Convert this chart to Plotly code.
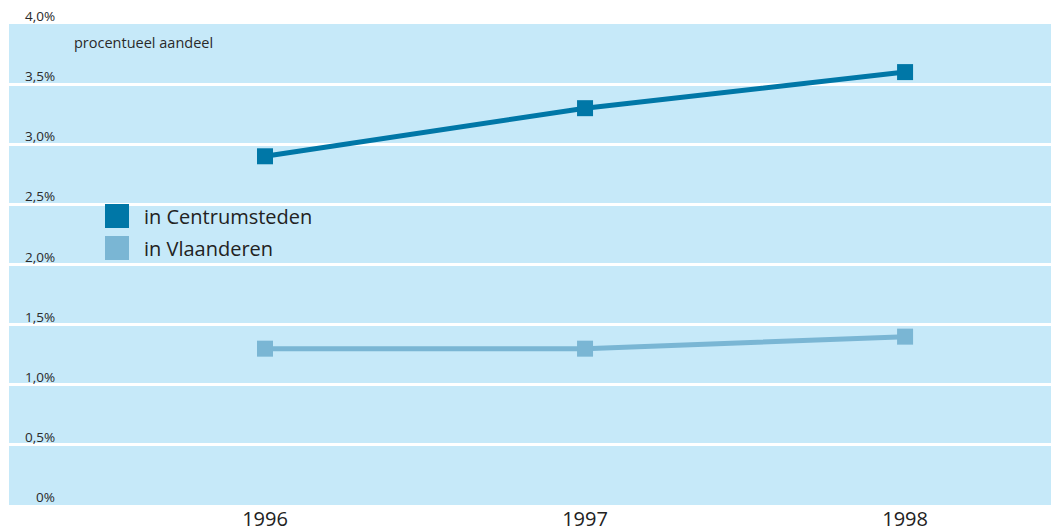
import plotly.graph_objects as go

years = [1996, 1997, 1998]
centrumsteden = [2.9, 3.3, 3.6]
vlaanderen = [1.3, 1.3, 1.4]
series_names = ["in Centrumsteden", "in Vlaanderen"]
series_colors = ["#0077A7", "#7AB6D4"]
y_ticks = [0, 0.5, 1.0, 1.5, 2.0, 2.5, 3.0, 3.5, 4.0]
y_tick_labels = ["0%", "0,5%", "1,0%", "1,5%", "2,0%", "2,5%", "3,0%", "3,5%", "4,0%"]
y_title = "procentueel aandeel"

FONT = "Open Sans"
W, H = 1051, 531
ml, mr, mt, mb = 9, 0, 24, 26

fig = go.Figure()
for name, vals, col in zip(series_names, [centrumsteden, vlaanderen], series_colors):
    fig.add_trace(go.Scatter(
        x=years, y=vals, name=name, mode="lines+markers",
        line=dict(color=col, width=5),
        marker=dict(symbol="square", size=16, color=col),
        showlegend=False, hoverinfo="skip"))

annotations = []
for v, t in zip(y_ticks, y_tick_labels):
    annotations.append(dict(
        x=(57 - ml) / (W - ml - mr), xref="paper", y=v, yref="y", text=t, showarrow=False,
        xanchor="right", yanchor="bottom", yshift=-3,
        font=dict(family=FONT, size=13.5, color="#2a2a2a")))

pw = W - ml - mr
ph = H - mt - mb
annotations.append(dict(
    x=(72 - ml) / pw, xref="paper", y=(H - mb - 43) / ph, yref="paper",
    text=y_title, showarrow=False, xanchor="left", yanchor="middle",
    font=dict(family=FONT, size=14.5, color="#2a2a2a")))

# manual legend
shapes = []
leg_top = [204, 236]
for i, (name, col) in enumerate(zip(series_names, series_colors)):
    top = leg_top[i]
    shapes.append(dict(
        type="rect", xref="paper", yref="paper",
        x0=(105 - ml) / pw, x1=(129 - ml) / pw,
        y0=(H - mb - (top + 24)) / ph, y1=(H - mb - top) / ph,
        fillcolor=col, line=dict(width=0)))
    annotations.append(dict(
        x=(142 - ml) / pw, xref="paper", y=(H - mb - (top + 12)) / ph, yref="paper",
        text=name, showarrow=False, xanchor="left", yanchor="middle",
        font=dict(family=FONT, size=20, color="#222222")))

fig.update_layout(
    width=W, height=H,
    margin=dict(l=ml, r=mr, t=mt, b=mb),
    paper_bgcolor="white", plot_bgcolor="#C6E9F9",
    annotations=annotations, shapes=shapes,
    xaxis=dict(range=[1995.2, 1998.456], tickvals=years, ticktext=[str(y) for y in years],
               showgrid=False, zeroline=False, showline=False, ticks="",
               tickfont=dict(family=FONT, size=20, color="#222222"), fixedrange=True),
    yaxis=dict(range=[0, 4], tickvals=y_ticks, showticklabels=False,
               showgrid=True, gridcolor="white", gridwidth=3,
               zeroline=False, showline=False, ticks="", fixedrange=True),
)

fig.write_html("out.html", config={"displayModeBar": False},
               post_script="document.body.style.margin='0';document.body.style.overflow='hidden';")
